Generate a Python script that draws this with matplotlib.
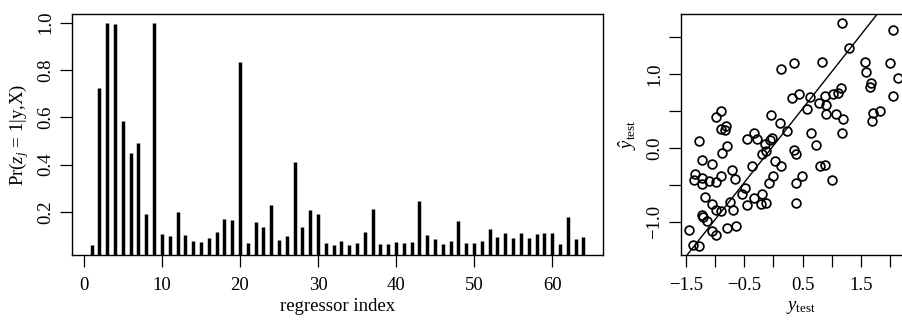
import matplotlib
matplotlib.use("Agg")
import matplotlib.pyplot as plt
import numpy as np

plt.rcParams['font.family'] = ['Liberation Serif', 'DejaVu Serif']
plt.rcParams['mathtext.fontset'] = 'custom'
plt.rcParams['mathtext.rm'] = 'Liberation Serif'
plt.rcParams['mathtext.it'] = 'Liberation Serif:italic'
plt.rcParams['font.size'] = 13.5

# posterior inclusion probabilities, regressors 1..64
incl_prob = [0.061, 0.725, 1.0, 0.993, 0.583, 0.447, 0.493, 0.192, 1.0, 0.106,
             0.099, 0.197, 0.103, 0.075, 0.072, 0.089, 0.114, 0.168, 0.167, 0.833,
             0.067, 0.156, 0.134, 0.230, 0.082, 0.099, 0.410, 0.134, 0.206, 0.192,
             0.068, 0.061, 0.078, 0.061, 0.068, 0.114, 0.212, 0.062, 0.062, 0.071,
             0.069, 0.071, 0.245, 0.103, 0.086, 0.064, 0.078, 0.161, 0.069, 0.067,
             0.078, 0.129, 0.093, 0.109, 0.088, 0.110, 0.088, 0.104, 0.110, 0.111,
             0.065, 0.178, 0.083, 0.095]
regressor_idx = np.arange(1, len(incl_prob) + 1)

# test set: observed vs predicted
y_test = [1.175, 2.051, 1.295, 0.132, 0.356, 0.837, 1.570, 1.587, 2.005, 2.137,
          1.673, 1.650, 2.051, 0.327, 0.442, 0.636, 0.573, 0.780, 0.894, 0.877,
          1.031, 1.100, 1.158, 0.894, 1.072, 1.192, 1.175, 1.684, 1.707, 1.833,
          -0.040, 0.109, 0.235, 0.648, 0.734, 0.356, 0.390, 0.808, 0.883, 0.499,
          0.396, 1.014, 0.384, -0.893, -0.979, -0.899, -0.813, -0.830, -1.282, -0.801,
          -0.887, -1.225, -1.047, -1.345, -1.357, -1.219, -1.105, -0.979, -0.893, -0.715,
          -0.658, -1.225, -0.458, -0.337, -0.286, -0.137, -0.028, -0.051, -0.200, -0.131,
          -0.372, 0.023, 0.127, -0.011, -0.068, -0.481, -0.544, -0.337, -0.200, -0.217,
          -0.120, -0.452, -0.738, -1.174, -1.053, -0.979, -0.904, -0.698, -1.225, -1.214,
          -1.145, -1.047, -0.979, -0.796, -0.641, -1.454, -1.374, -1.271]
y_pred = [1.694, 1.594, 1.346, 1.070, 1.152, 1.161, 1.161, 1.025, 1.143, 0.949,
          0.872, 0.822, 0.696, 0.682, 0.723, 0.687, 0.524, 0.601, 0.574, 0.700,
          0.732, 0.741, 0.813, 0.465, 0.456, 0.393, 0.203, 0.361, 0.474, 0.497,
          0.447, 0.339, 0.230, 0.199, 0.045, -0.032, -0.081, -0.244, -0.226, -0.379,
          -0.470, -0.438, -0.745, 0.497, 0.416, 0.257, 0.294, 0.248, 0.099, 0.027,
          -0.068, -0.167, -0.217, -0.348, -0.438, -0.411, -0.447, -0.465, -0.384, -0.303,
          -0.420, -0.483, 0.117, 0.199, 0.122, 0.050, 0.131, 0.108, -0.077, -0.041,
          -0.244, -0.172, -0.248, -0.379, -0.474, -0.547, -0.623, -0.673, -0.628, -0.759,
          -0.750, -0.768, -0.732, -0.668, -0.759, -0.836, -0.854, -0.845, -0.912, -0.935,
          -0.989, -1.129, -1.174, -1.080, -1.052, -1.116, -1.310, -1.328]
line_intercept = 0.03
line_slope = 1.0

left_xticks = [0, 10, 20, 30, 40, 50, 60]
left_yticks = [0.2, 0.4, 0.6, 0.8, 1.0]
right_xticks = [-1.5, -1.0, -0.5, 0.0, 0.5, 1.0, 1.5, 2.0]
right_xlabels = ['\u22121.5', '', '\u22120.5', '', '0.5', '', '1.5', '']
right_yticks = [-1.0, -0.5, 0.0, 0.5, 1.0, 1.5]
right_ylabels = ['\u22121.0', '', '0.0', '', '1.0', '']

W, H = 902, 321
fig = plt.figure(figsize=(W / 100, H / 100), dpi=100)


def px_axes(x0, y0, x1, y1):
    # axes from pixel box (top-left origin)
    return fig.add_axes([x0 / W, 1 - y1 / H, (x1 - x0) / W, (y1 - y0) / H])


def r_style(ax):
    for s in ax.spines.values():
        s.set_linewidth(1.0)
    ax.tick_params(direction='out', length=8.6, width=0.9, pad=7)
    ax.tick_params(axis='y', labelrotation=90, pad=4)
    for lab in ax.get_yticklabels():
        lab.set_va('center')


# left: inclusion probabilities
ax1 = px_axes(72, 14, 603, 255)
ax1.vlines(regressor_idx, 0, incl_prob, colors='black', linewidth=2.5, capstyle='butt')
ax1.set_xlim(-1.52, 66.52)
ax1.set_ylim(0.017, 1.037)
ax1.set_xticks(left_xticks)
ax1.set_yticks(left_yticks)
ax1.set_yticklabels(['%.1f' % v for v in left_yticks])
r_style(ax1)
ax1.set_xlabel('regressor index', labelpad=3)
ax1.set_ylabel(r'Pr($z_j$ = 1|y,X)', labelpad=5)

# right: predicted vs observed
ax2 = px_axes(680.7, 14, 922, 255)
ax2.plot(y_test, y_pred, 'o', markerfacecolor='none', markeredgecolor='black',
         markersize=6.3, markeredgewidth=1.25)
ax2.axline((0, line_intercept), slope=line_slope, color='black', linewidth=1.0)
ax2.set_xlim(-1.591, 2.55)
ax2.set_ylim(-1.451, 1.813)
ax2.set_xticks(right_xticks)
ax2.set_xticklabels(right_xlabels)
ax2.set_yticks(right_yticks)
ax2.set_yticklabels(right_ylabels)
r_style(ax2)
ax2.set_xlabel(r'$y_{\mathrm{test}}$', labelpad=4)
ax2.set_ylabel(r'$\hat{y}_{\mathrm{test}}$', labelpad=5)

fig.savefig('out.png', dpi=100)
